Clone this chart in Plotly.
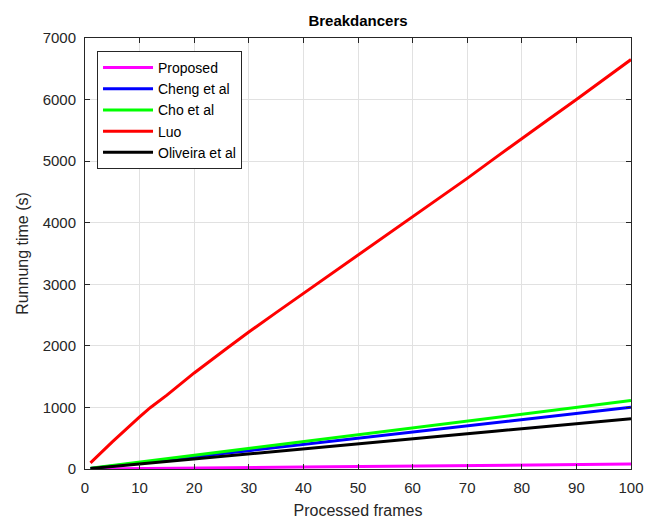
import plotly.graph_objects as go

frames = [1, 5, 10, 12, 15, 20, 26, 30, 35, 40, 45, 50, 55, 60, 65, 70, 75, 80, 85, 90, 95, 100]
proposed = [1, 3, 6, 8, 10, 14, 19, 23, 27, 31, 36, 40, 44, 48, 52, 56, 60, 64, 68, 72, 76, 81]
cheng = [10, 48, 98, 118, 148, 198, 258, 298, 348, 398, 448, 498, 548, 598, 650, 700, 750, 800, 852, 902, 952, 1002]
cho = [11, 55, 110, 133, 166, 222, 288, 333, 389, 444, 500, 556, 611, 666, 722, 777, 833, 888, 944, 999, 1055, 1112]
luo = [100, 440, 845, 1000, 1200, 1560, 1960, 2225, 2540, 2850, 3165, 3480, 3790, 4100, 4410, 4720, 5045, 5370, 5685, 6000, 6325, 6650]
oliveira = [8, 40, 82, 98, 122, 163, 213, 245, 286, 327, 368, 409, 450, 491, 531, 572, 613, 654, 695, 736, 777, 817]

series = [
    ("Proposed", proposed, "#ff00ff"),
    ("Cheng et al", cheng, "#0000ff"),
    ("Cho et al", cho, "#00ff00"),
    ("Luo", luo, "#ff0000"),
    ("Oliveira et al", oliveira, "#000000"),
]

FONT = "Liberation Sans, Arial, sans-serif"

fig = go.Figure()
for name, vals, col in series:
    fig.add_trace(go.Scatter(x=frames, y=vals, mode="lines", name=name,
                             line=dict(color=col, width=3)))

axis_common = dict(
    showline=True, linecolor="#262626", linewidth=1, mirror="ticks",
    ticks="inside", ticklen=5, tickcolor="#262626",
    showgrid=True, gridcolor="#e1e1e1", gridwidth=1,
    zeroline=False, automargin=False,
    tickfont=dict(family=FONT, size=15, color="#262626"),
)

fig.update_xaxes(range=[0, 100], dtick=10, tick0=0, ticklabelstandoff=5,
                 title=dict(text="Processed frames", standoff=12,
                            font=dict(family=FONT, size=16, color="#262626")),
                 **axis_common)
fig.update_yaxes(range=[0, 7000], dtick=1000, tick0=0, ticklabelstandoff=5,
                 title=dict(text="Runnung time (s)", standoff=10,
                            font=dict(family=FONT, size=16, color="#262626")),
                 **axis_common)

fig.update_layout(
    width=646, height=519,
    margin=dict(l=85, r=15, t=38, b=50),
    paper_bgcolor="white", plot_bgcolor="white",
    title=dict(text="<b>Breakdancers</b>", x=0.5, xref="paper", xanchor="center",
               y=0.96, yref="container", yanchor="middle",
               font=dict(family=FONT, size=15, color="#000000"), automargin=False),
    legend=dict(x=0.022, y=0.97, xanchor="left", yanchor="top",
                bgcolor="white", bordercolor="#262626", borderwidth=1,
                font=dict(family=FONT, size=14, color="#000000"),
                tracegroupgap=0, itemwidth=50),
    showlegend=True,
)

fig.write_html("out.html", config={"displayModeBar": False},
               post_script="document.body.style.margin='0';document.body.style.overflow='hidden';")
